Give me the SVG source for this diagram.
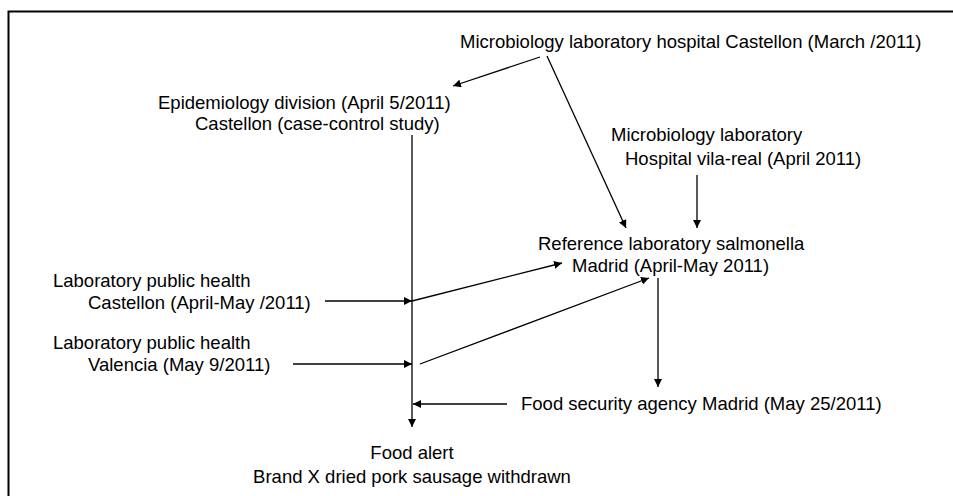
<svg xmlns="http://www.w3.org/2000/svg" width="953" height="496" viewBox="0 0 953 496">
<defs>
<marker id="ah" viewBox="0 0 10 10" refX="10" refY="5" markerWidth="8" markerHeight="8" markerUnits="userSpaceOnUse" orient="auto">
<path d="M0,0 L10,5 L0,10 z" fill="#000"/>
</marker>
</defs>
<style>
text{font-family:"Liberation Sans",Arial,Helvetica,sans-serif;font-size:18.5px;fill:#000}
.c{stroke:#000;stroke-width:1.3;fill:none}
.a{marker-end:url(#ah)}
</style>
<rect width="953" height="496" fill="#fff"/>
<path d="M8.5,496 V11.5 H953" fill="none" stroke="#000" stroke-width="2"/>
<g id="connectors">
<line class="c a" x1="540" y1="57" x2="453" y2="86"/>
<line class="c a" x1="547" y1="56" x2="626" y2="228"/>
<line class="c a" x1="697" y1="175" x2="697" y2="228"/>
<line class="c a" x1="412" y1="135" x2="412" y2="427"/>
<line class="c a" x1="325" y1="301" x2="412" y2="301"/>
<line class="c a" x1="293" y1="364" x2="412" y2="364"/>
<line class="c a" x1="412" y1="301" x2="562" y2="263"/>
<line class="c a" x1="420" y1="364" x2="649" y2="278"/>
<line class="c a" x1="658" y1="278" x2="658" y2="387"/>
<line class="c a" x1="507" y1="404" x2="413" y2="404"/>
</g>
<g id="micro-castellon"><text x="460" y="48">Microbiology laboratory hospital Castellon (March /2011)</text></g>
<g id="epidemiology"><text x="158" y="109">Epidemiology division (April 5/2011)</text><text x="195" y="130">Castellon (case-control study)</text></g>
<g id="micro-vilareal"><text x="611" y="141">Microbiology laboratory</text><text x="625" y="165">Hospital vila-real (April 2011)</text></g>
<g id="reference"><text x="538" y="250">Reference laboratory salmonella</text><text x="572" y="272">Madrid (April-May 2011)</text></g>
<g id="lab-castellon"><text x="53" y="287">Laboratory public health</text><text x="88" y="309">Castellon (April-May /2011)</text></g>
<g id="lab-valencia"><text x="53" y="349">Laboratory public health</text><text x="88" y="371">Valencia (May 9/2011)</text></g>
<g id="food-security"><text x="521" y="410">Food security agency Madrid (May 25/2011)</text></g>
<g id="food-alert"><text x="412" y="459" text-anchor="middle">Food alert</text><text x="412" y="483" text-anchor="middle">Brand X dried pork sausage withdrawn</text></g>
</svg>
